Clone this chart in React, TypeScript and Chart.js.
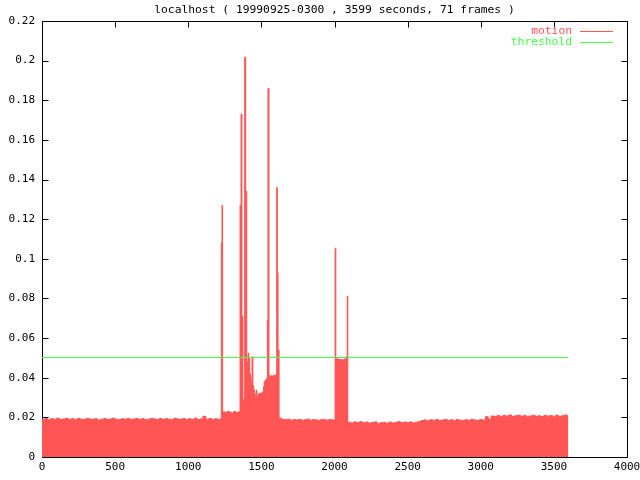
import React, { useEffect, useRef } from "react";
import { Chart, registerables } from "chart.js";

Chart.register(...registerables);

// ---- Data (seconds -> motion level) ----
// baseline before first event: start 0 s, every 20 s
const baseAStart = 0;
const baseAStep = 20;
const baseAValues = [
  0.0190, 0.0194, 0.0188, 0.0193, 0.0191, 0.0196, 0.0189, 0.0192, 0.0195, 0.0190,
  0.0193, 0.0188, 0.0194, 0.0191, 0.0189, 0.0195, 0.0192, 0.0190, 0.0193, 0.0187,
  0.0191, 0.0194, 0.0189, 0.0192, 0.0196, 0.0190, 0.0188, 0.0193, 0.0191, 0.0195,
  0.0189, 0.0192, 0.0194, 0.0190, 0.0193, 0.0188, 0.0191, 0.0195, 0.0192, 0.0189,
  0.0194, 0.0190, 0.0193, 0.0191, 0.0188, 0.0195, 0.0192, 0.0190, 0.0194, 0.0189,
  0.0193, 0.0191, 0.0196, 0.0190, 0.0192, 0.0205, 0.0191, 0.0194, 0.0189, 0.0193,
  0.0190, 0.0192,
];
// first spike
const spike1Times = [1226, 1231];
const spike1Values = [0.108, 0.127];
// raised baseline: start 1235 s, every 15 s
const baseBStart = 1235;
const baseBStep = 15;
const baseBValues = [0.0228, 0.0224, 0.0230, 0.0226, 0.0222, 0.0229, 0.0225, 0.0227];
// burst of motion
const burstTimes = [
  1354, 1361, 1367, 1374, 1380, 1386, 1393, 1400, 1406, 1409,
  1414, 1420, 1425, 1430, 1436, 1442, 1447, 1452, 1458, 1464,
  1469, 1474, 1480, 1486, 1492, 1498, 1504, 1510, 1515, 1520,
  1526, 1532, 1538, 1541, 1545, 1552, 1558, 1565, 1572, 1579,
  1586, 1592, 1598, 1605, 1609, 1614,
];
const burstValues = [
  0.127, 0.173, 0.071, 0.0288, 0.029, 0.2017, 0.134, 0.048, 0.047, 0.0523,
  0.050, 0.042, 0.040, 0.037, 0.0506, 0.036, 0.034, 0.032, 0.030, 0.0338,
  0.030, 0.031, 0.032, 0.0315, 0.0322, 0.0318, 0.0325, 0.033, 0.0355, 0.038,
  0.0389, 0.039, 0.040, 0.069, 0.186, 0.041, 0.0405, 0.041, 0.0408, 0.041,
  0.0412, 0.041, 0.0415, 0.136, 0.093, 0.054,
];
// baseline after burst: start 1621 s, every 19 s
const baseCStart = 1621;
const baseCStep = 19;
const baseCValues = [
  0.0196, 0.0190, 0.0188, 0.0191, 0.0186, 0.0189, 0.0187, 0.0190, 0.0185, 0.0188,
  0.0191, 0.0186, 0.0189, 0.0187, 0.0185, 0.0190, 0.0188, 0.0186, 0.0189, 0.0187,
];
// second block of motion
const blockTimes = [2004, 2009, 2030, 2050, 2065, 2080, 2087];
const blockValues = [0.1053, 0.0495, 0.0492, 0.0490, 0.0494, 0.0506, 0.0812];
// baseline to the end: start 2091 s, every 20 s
const baseDStart = 2091;
const baseDStep = 20;
const baseDValues = [
  0.0175, 0.0172, 0.0177, 0.0174, 0.0178, 0.0173, 0.0176, 0.0171, 0.0174, 0.0177,
  0.0168, 0.0173, 0.0175, 0.0170, 0.0176, 0.0172, 0.0174, 0.0178, 0.0173, 0.0176,
  0.0174, 0.0177, 0.0172, 0.0175, 0.0178, 0.0184, 0.0187, 0.0183, 0.0188, 0.0185,
  0.0189, 0.0184, 0.0187, 0.0190, 0.0185, 0.0188, 0.0183, 0.0189, 0.0186, 0.0184,
  0.0188, 0.0185, 0.0190, 0.0187, 0.0184, 0.0189, 0.0186, 0.0203, 0.0192, 0.0207,
  0.0205, 0.0209, 0.0203, 0.0210, 0.0206, 0.0212, 0.0204, 0.0208, 0.0211, 0.0205,
  0.0209, 0.0203, 0.0207, 0.0211, 0.0205, 0.0208, 0.0204, 0.0210, 0.0206, 0.0209,
  0.0203, 0.0211, 0.0205, 0.0208, 0.0212, 0.0206,
];
const endTime = 3599;
const endValue = 0.0206;

const thresholdTimes = [0, 3599];
const thresholdValues = [0.05, 0.05];

const xTicksMin = 0;
const xTicksMax = 4000;
const xTickStep = 500;
const yTicksMin = 0;
const yTicksMax = 0.22;
const yTickStep = 0.02;

const titleText = "localhost ( 19990925-0300 , 3599 seconds, 71 frames )";
const seriesNames = ["motion", "threshold"];

const RED = "#ff5555";
const GREEN = "#44ff44";
const FONT = "'DejaVu Sans Mono', 'Liberation Mono', monospace";

type P = { x: number; y: number };
const regular = (start: number, step: number, vals: number[]): P[] =>
  vals.map((v, i) => ({ x: start + i * step, y: v }));
const paired = (ts: number[], vs: number[]): P[] => ts.map((t, i) => ({ x: t, y: vs[i] }));

const motionPoints: P[] = [
  ...regular(baseAStart, baseAStep, baseAValues),
  ...paired(spike1Times, spike1Values),
  ...regular(baseBStart, baseBStep, baseBValues),
  ...paired(burstTimes, burstValues),
  ...regular(baseCStart, baseCStep, baseCValues),
  ...paired(blockTimes, blockValues),
  ...regular(baseDStart, baseDStep, baseDValues),
  { x: endTime, y: endValue },
];
const thresholdPoints: P[] = paired(thresholdTimes, thresholdValues);

const frame = {
  id: "gnuplotFrame",
  beforeDatasetsDraw(chart: any) {
    const { ctx, chartArea: a, scales } = chart;
    const L = Math.round(a.left) + 0.5;
    const R = Math.round(a.right) + 0.5;
    const T = Math.round(a.top) + 0.5;
    const B = Math.round(a.bottom) + 0.5;
    const tl = 6;
    ctx.save();
    ctx.strokeStyle = "#000";
    ctx.lineWidth = 1;
    ctx.beginPath();
    ctx.rect(L, T, R - L, B - T);
    scales.x.ticks.forEach((t: any) => {
      const px = Math.round(scales.x.getPixelForValue(t.value)) + 0.5;
      ctx.moveTo(px, B);
      ctx.lineTo(px, B - tl);
      ctx.moveTo(px, T);
      ctx.lineTo(px, T + tl);
    });
    scales.y.ticks.forEach((t: any) => {
      const py = Math.round(scales.y.getPixelForValue(t.value)) + 0.5;
      ctx.moveTo(L, py);
      ctx.lineTo(L + tl, py);
      ctx.moveTo(R, py);
      ctx.lineTo(R - tl, py);
    });
    ctx.stroke();
    ctx.restore();
  },
  beforeDatasetDraw(chart: any, args: any) {
    if (args.index !== 0) return;
    const py = chart.scales.y.getPixelForValue(thresholdValues[0]);
    chart.ctx.save();
    chart.ctx.translate(0, Math.floor(py) + 0.5 - py);
  },
  afterDatasetDraw(chart: any, args: any) {
    if (args.index !== 0) return;
    chart.ctx.restore();
  },
  afterDatasetsDraw(chart: any) {
    const { ctx, chartArea: a } = chart;
    ctx.save();
    ctx.font = `11.3px ${FONT}`;
    ctx.textBaseline = "middle";
    ctx.fillStyle = "#000";
    ctx.textAlign = "center";
    ctx.fillText(titleText, (a.left + a.right) / 2, 10);
    const colors = [RED, GREEN];
    seriesNames.forEach((name, i) => {
      const y = 31 + i * 11;
      ctx.textAlign = "right";
      ctx.fillStyle = colors[i];
      ctx.fillText(name, a.right - 55, y);
      ctx.strokeStyle = colors[i];
      ctx.lineWidth = 1;
      ctx.beginPath();
      ctx.moveTo(a.right - 47, y + 0.5);
      ctx.lineTo(a.right - 14, y + 0.5);
      ctx.stroke();
    });
    ctx.restore();
  },
};

export default function App() {
  const ref = useRef<HTMLCanvasElement | null>(null);
  useEffect(() => {
    if (!ref.current) return;
    const chart = new Chart(ref.current, {
      type: "line",
      data: {
        datasets: [
          {
            label: seriesNames[1],
            data: thresholdPoints,
            borderColor: GREEN,
            borderWidth: 1,
            pointRadius: 0,
            fill: false,
            order: 0,
          },
          {
            label: seriesNames[0],
            data: motionPoints,
            borderColor: RED,
            backgroundColor: RED,
            borderWidth: 1,
            pointRadius: 0,
            stepped: true,
            fill: "origin",
            order: 1,
          },
        ],
      },
      options: {
        animation: false,
        responsive: false,
        devicePixelRatio: 1,
        layout: { padding: { top: 21, right: 13, left: 0, bottom: 0 } },
        plugins: {
          legend: { display: false },
          title: { display: false },
          tooltip: { enabled: false },
        },
        scales: {
          x: {
            type: "linear",
            min: xTicksMin,
            max: xTicksMax,
            grid: { display: false, drawTicks: false },
            border: { display: false },
            ticks: {
              stepSize: xTickStep,
              color: "#000",
              font: { family: FONT, size: 11 },
              padding: 4,
              maxRotation: 0,
              autoSkip: false,
              callback: (v: any) => String(v),
            },
            afterFit: (s: any) => {
              s.height = 23;
              s.paddingLeft = 0;
              s.paddingRight = 0;
            },
          },
          y: {
            type: "linear",
            min: yTicksMin,
            max: yTicksMax,
            grid: { display: false, drawTicks: false },
            border: { display: false },
            ticks: {
              stepSize: yTickStep,
              color: "#000",
              font: { family: FONT, size: 11 },
              padding: 7,
              autoSkip: false,
              callback: (v: any) => String(Number(Number(v).toFixed(2))),
            },
            afterFit: (s: any) => {
              s.width = 42;
              s.paddingTop = 0;
              s.paddingBottom = 0;
            },
          },
        },
      },
      plugins: [frame],
    });
    return () => chart.destroy();
  }, []);
  return (
    <div style={{ position: "absolute", left: 0, top: 0, width: 640, height: 480, background: "#fff" }}>
      <canvas ref={ref} width={640} height={480} />
    </div>
  );
}
